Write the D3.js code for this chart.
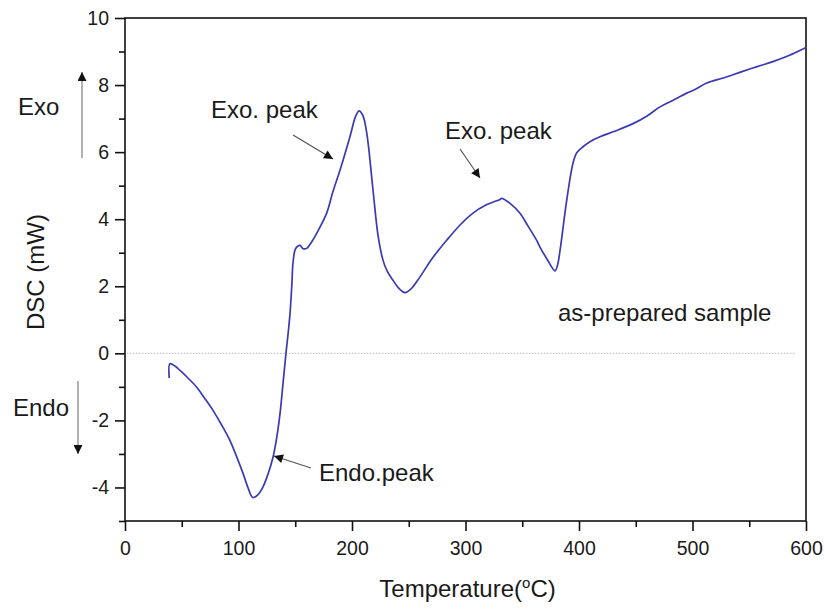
<!DOCTYPE html>
<html>
<head>
<meta charset="utf-8">
<script src="https://cdn.jsdelivr.net/npm/d3@7/dist/d3.min.js"></script>
<style>
  html, body { margin: 0; padding: 0; background: #fff; }
  svg { display: block; font-family: "Liberation Sans", Arial, Helvetica, sans-serif; }
</style>
</head>
<body>
<svg id="chart" width="825" height="609"></svg>
<script>
// ---- data ----
const temperature = [39.0, 39.6, 44, 48.5, 55, 63.2, 70, 77.5, 85, 92.5, 98, 104.0, 108.5, 112.5, 117, 121.6, 126, 130.4, 133.5, 136.6, 139.5, 141.9, 143.8, 145.4, 147, 148.0, 150, 152.4, 154.2, 157, 160.1, 164, 168.9, 177.7, 183, 189.4, 198.2, 203, 206.2, 209.5, 213.0, 218.5, 223, 227.3, 231, 236.1, 241, 246.7, 252, 259.9, 270, 283.4, 295, 306.6, 318, 330.4, 331.9, 340, 348.0, 355, 362.7, 365.6, 372, 378.9, 381, 383.3, 389.2, 394.7, 398, 403.5, 410, 418.5, 432, 447.6, 460, 471.4, 483, 494.9, 503, 512.5, 528, 543.6, 557, 570.9, 585, 599.6];
const dsc = [-0.74, -0.31, -0.38, -0.51, -0.72, -1.01, -1.33, -1.70, -2.13, -2.60, -3.05, -3.58, -4.02, -4.30, -4.22, -3.98, -3.60, -3.10, -2.55, -1.79, -0.80, 0.03, 0.62, 1.19, 2.05, 2.69, 3.10, 3.20, 3.22, 3.12, 3.13, 3.30, 3.58, 4.18, 4.80, 5.46, 6.46, 7.05, 7.23, 7.10, 6.57, 4.87, 3.50, 2.78, 2.45, 2.18, 1.95, 1.81, 1.92, 2.28, 2.80, 3.37, 3.82, 4.18, 4.42, 4.59, 4.62, 4.45, 4.18, 3.80, 3.37, 3.17, 2.80, 2.46, 2.62, 3.07, 4.57, 5.67, 5.98, 6.16, 6.32, 6.46, 6.63, 6.85, 7.08, 7.35, 7.55, 7.76, 7.88, 8.06, 8.22, 8.40, 8.55, 8.70, 8.88, 9.11];

const xMajorTicks = [0, 100, 200, 300, 400, 500, 600];
const xMinorTicks = [50, 150, 250, 350, 450, 550];
const yMajorTicks = [-4, -2, 0, 2, 4, 6, 8, 10];
const yMinorTicks = [-5, -3, -1, 1, 3, 5, 7, 9];

const xLabel = "Temperature(";
const yLabel = "DSC (mW)";
const annotations = [
  { text: "Exo. peak", tx: 211, ty: 118, from: [293, 135], to: [333, 159] },
  { text: "Exo. peak", tx: 445, ty: 139, from: [460, 149], to: [480, 178] },
  { text: "Endo.peak", tx: 319, ty: 481, from: [311, 468], to: [274, 456] }
];

// ---- layout ----
const svg = d3.select("#chart");
const L = 125, R = 806, T = 18, B = 521;
const x = d3.scaleLinear().domain([0, 600]).range([L, R]);
const y = d3.scaleLinear().domain([-5, 10]).range([B, T]);

const defs = svg.append("defs");
defs.append("marker").attr("id", "ah").attr("viewBox", "0 0 10 10")
  .attr("refX", 10).attr("refY", 5).attr("markerWidth", 14).attr("markerHeight", 9)
  .attr("markerUnits", "userSpaceOnUse").attr("orient", "auto")
  .append("path").attr("d", "M0,0 L10,5 L0,10 Z").attr("fill", "#111");

// zero reference line
svg.append("line")
  .attr("x1", x(2)).attr("x2", x(590)).attr("y1", y(0)).attr("y2", y(0))
  .attr("stroke", "#9a9a9a").attr("stroke-width", 1).attr("stroke-dasharray", "1,2");

// axes
const fontTick = 19.5;
const fmt = d => String(d);
const gx = svg.append("g").attr("transform", `translate(0,${B})`)
  .call(d3.axisBottom(x).tickValues(xMajorTicks).tickSize(10).tickPadding(10).tickFormat(fmt));
const gxm = svg.append("g").attr("transform", `translate(0,${B})`)
  .call(d3.axisBottom(x).tickValues(xMinorTicks).tickSize(6).tickFormat(""));
const gy = svg.append("g").attr("transform", `translate(${L},0)`)
  .call(d3.axisLeft(y).tickValues(yMajorTicks).tickSize(10).tickPadding(6).tickFormat(fmt));
const gym = svg.append("g").attr("transform", `translate(${L},0)`)
  .call(d3.axisLeft(y).tickValues(yMinorTicks).tickSize(6).tickFormat(""));
[gx, gxm, gy, gym].forEach(g => {
  g.select(".domain").remove();
  g.selectAll(".tick line").attr("stroke", "#111").attr("stroke-width", 1.6);
  g.selectAll(".tick text").attr("fill", "#1a1a1a").style("font-size", fontTick + "px")
    .style("font-family", "'Liberation Sans', Arial, sans-serif");
});
gx.selectAll(".tick text").attr("dy", "0.72em");

// frame
svg.append("rect").attr("x", L).attr("y", T).attr("width", R - L).attr("height", B - T)
  .attr("fill", "none").attr("stroke", "#111").attr("stroke-width", 1.6);

// curve
const pts = temperature.map((t, i) => [t, dsc[i]]);
svg.append("path").datum(pts)
  .attr("d", d3.line().x(d => x(d[0])).y(d => y(d[1])).curve(d3.curveCatmullRom.alpha(0.5)))
  .attr("fill", "none").attr("stroke", "#3a3ab4").attr("stroke-width", 1.7);

// axis titles
const xt = svg.append("text").attr("x", (L + R) / 2 + 2).attr("y", 597)
  .attr("text-anchor", "middle").style("font-size", "24px").attr("fill", "#1a1a1a");
xt.append("tspan").text(xLabel);
xt.append("tspan").text("o").style("font-size", "15px").attr("dy", "-9");
xt.append("tspan").text("C)").attr("dy", "9");

svg.append("text").attr("transform", `translate(44,${272}) rotate(-90)`)
  .attr("text-anchor", "middle").style("font-size", "24px").attr("fill", "#1a1a1a").text(yLabel);

// Exo / Endo side labels
svg.append("text").attr("x", 18).attr("y", 115).style("font-size", "24px").attr("fill", "#1a1a1a").text("Exo");
svg.append("text").attr("x", 13).attr("y", 416).style("font-size", "24px").attr("fill", "#1a1a1a").text("Endo");
svg.append("line").attr("x1", 82).attr("x2", 82).attr("y1", 158).attr("y2", 72)
  .attr("stroke", "#888").attr("stroke-width", 1.3).attr("marker-end", "url(#ah)");
svg.append("line").attr("x1", 78).attr("x2", 78).attr("y1", 381).attr("y2", 454)
  .attr("stroke", "#888").attr("stroke-width", 1.3).attr("marker-end", "url(#ah)");

// annotations
annotations.forEach(a => {
  svg.append("text").attr("x", a.tx).attr("y", a.ty).style("font-size", "24px")
    .attr("fill", "#1a1a1a").text(a.text);
  svg.append("line").attr("x1", a.from[0]).attr("y1", a.from[1]).attr("x2", a.to[0]).attr("y2", a.to[1])
    .attr("stroke", "#555").attr("stroke-width", 1.2).attr("marker-end", "url(#ah)");
});

svg.append("text").attr("x", 558).attr("y", 321).style("font-size", "24px")
  .attr("fill", "#1a1a1a").text("as-prepared sample");
</script>
</body>
</html>
